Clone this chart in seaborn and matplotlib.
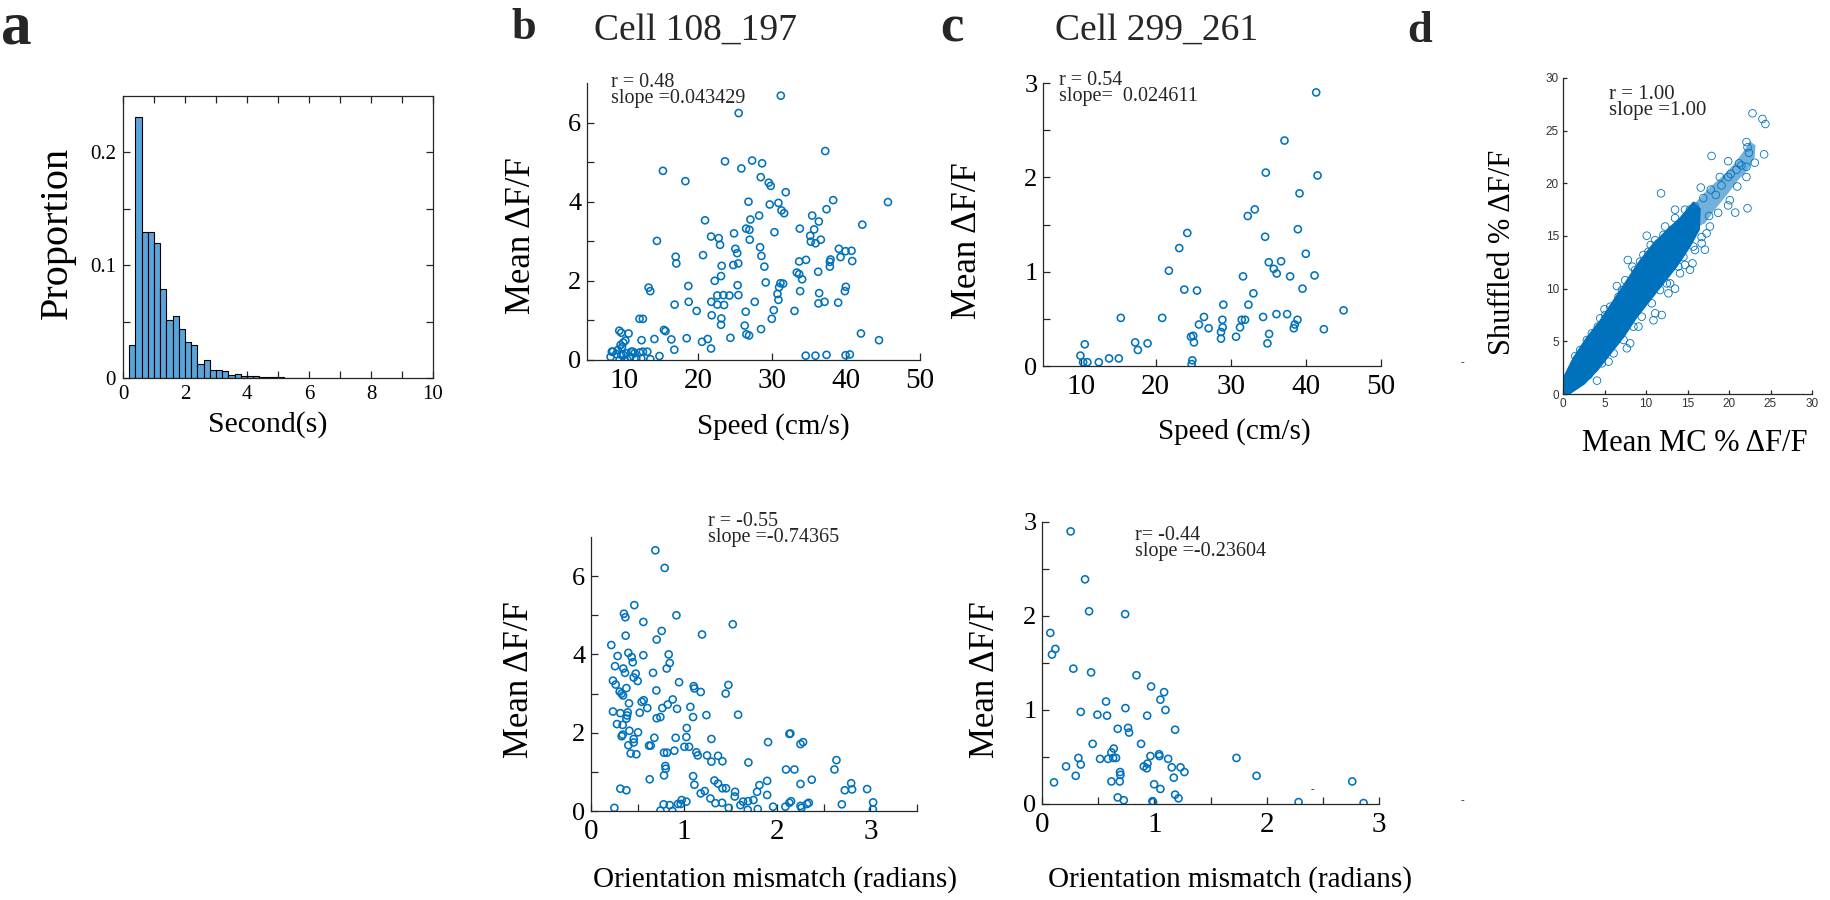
import numpy as np
import matplotlib
matplotlib.use("Agg")
import matplotlib.pyplot as plt
import seaborn as sns

sns.set_style("ticks")
plt.rcParams["font.family"] = ["Liberation Serif", "DejaVu Serif"]

BLUE = "#0072BD"
BAR = "#58A5DC"
AXC = "#262626"
W, H = 1830, 900

# ---------------- data ----------------
# a: event duration histogram (proportion per 0.2 s bin)
bin_left = [0.2, 0.4, 0.6, 0.8, 1.0, 1.2, 1.4, 1.6, 1.8, 2.0, 2.2, 2.4, 2.6, 2.8,
            3.0, 3.2, 3.4, 3.6, 3.8, 4.0, 4.2, 4.4, 4.6, 4.8, 5.0, 5.2, 5.4, 5.6, 5.8]
proportion = [0.029, 0.231, 0.129, 0.129, 0.120, 0.079, 0.051, 0.055, 0.043, 0.032,
              0.029, 0.012, 0.016, 0.0075, 0.0075, 0.006, 0.003, 0.0035, 0.002, 0.002,
              0.0015, 0.0012, 0.001, 0.0006, 0.0005, 0.0004, 0.0003, 0.0003, 0.0002]

# b top: cell 108_197, speed vs mean dF/F
b_speed = [31.19, 25.5, 15.26, 18.29, 23.65, 25.86, 27.31, 28.66, 37.19, 28.48, 29.56, 29.83,
           31.86, 29.69, 30.87, 31.28, 31.64, 26.82, 38.27, 37.37, 45.67, 42.2, 14.45, 20.95,
           21.76, 22.8, 22.98, 24.87, 26.5, 26.95, 27.08, 28.26, 30.33, 33.76, 35.43, 35.7,
           36.33, 35.16, 35.25, 35.88, 36.6, 26.99, 16.98, 17.07, 20.68, 25.05, 25.3, 25.44,
           24.77, 23.2, 28.39, 28.57, 28.97, 29.15, 33.67, 34.6, 39.03, 39.94, 40.75, 40.84,
           37.82, 37.91, 37.82, 39.26, 23.11, 22.26, 33.35, 33.67, 34.07, 36.24, 30.96, 31.14,
           31.5, 13.32, 13.55, 18.69, 18.74, 16.84, 19.82, 21.8, 22.61, 23.43, 24.24, 22.61,
           23.52, 25.35, 25.46, 27.67, 30.74, 30.87, 33.8, 36.37, 36.28, 37.1, 38.94, 39.85,
           39.98, 21.85, 23.16, 23.11, 26.45, 30.24, 29.97, 33.04, 12.1, 12.55, 26.31, 26.54,
           26.9, 28.52, 15.4, 15.6, 14.11, 12.37, 16.4, 16.8, 18.47, 20.54, 21.31, 21.76,
           24.38, 42.02, 44.46, 34.56, 35.87, 37.37, 39.94, 40.52, 14.79,
           9.36, 9.63, 10.62, 9.9, 10.18, 9.54, 9.72, 9.17, 8.5, 8.19, 8.96, 9.63, 10.31,
           10.99, 11.43, 12.11, 12.56, 13.15, 10.84, 11.66, 9.4, 10.08, 10.5, 12.34, 13.56,
           9.94, 11.2, 8.36]
b_dff_speed = [6.68, 6.24, 4.78, 4.52, 5.02, 4.84, 5.04, 4.97, 5.28, 4.62, 4.48, 4.40,
               4.24, 3.93, 3.97, 3.78, 3.71, 4.00, 4.04, 3.81, 3.99, 3.42, 3.01, 3.53,
               3.12, 3.08, 2.91, 3.20, 3.32, 3.29, 3.55, 3.65, 3.23, 3.32, 3.65, 3.30,
               3.50, 3.14, 2.99, 2.95, 3.04, 3.04, 2.61, 2.44, 2.65, 2.81, 2.70, 2.44,
               2.40, 2.38, 2.85, 2.63, 2.36, 1.96, 2.49, 2.53, 2.81, 2.75, 2.76, 2.50,
               2.48, 2.54, 2.36, 2.60, 2.12, 2.00, 2.21, 2.17, 2.04, 2.23, 1.84, 1.94,
               1.93, 1.83, 1.74, 1.87, 1.47, 1.40, 1.24, 1.47, 1.63, 1.64, 1.63, 1.40,
               1.39, 1.89, 1.64, 1.47, 1.67, 1.52, 1.74, 1.69, 1.43, 1.47, 1.45, 1.74,
               1.85, 1.13, 1.05, 0.89, 1.22, 1.26, 1.04, 1.24, 1.04, 1.04, 0.87, 0.65,
               0.62, 0.78, 0.76, 0.73, 0.53, 0.50, 0.52, 0.26, 0.55, 0.46, 0.53, 0.29,
               0.56, 0.67, 0.50, 0.11, 0.11, 0.13, 0.12, 0.14, 0.10,
               0.74, 0.69, 0.67, 0.44, 0.49, 0.38, 0.32, 0.25, 0.21, 0.08, 0.15, 0.13, 0.17,
               0.21, 0.17, 0.19, 0.21, 0.21, 0.08, 0.04, 0.0, 0.0, 0.0, 0.04, 0.02,
               0.13, 0.21, 0.21]

# c top: cell 299_261, speed vs mean dF/F
c_speed = [41.37, 37.15, 34.66, 41.55, 39.15, 32.26, 33.19, 38.93, 34.57, 24.21, 23.14, 21.76,
           39.99, 36.7, 35.06, 35.72, 36.12, 31.63, 37.9, 41.15, 39.55, 23.81, 25.5, 33.01,
           29.01, 32.35, 15.36, 20.87, 26.43, 28.88, 25.76, 27.05, 28.92, 31.23, 31.46, 31.9,
           34.3, 36.08, 37.5, 38.88, 38.52, 38.39, 42.39, 45.02, 28.7, 28.7, 30.7, 35.1,
           34.88, 17.27, 17.63, 18.92, 24.7, 25.0, 25.1, 10.56, 9.98, 10.34, 10.91, 12.43,
           13.8, 15.09, 24.88, 24.79]
c_dff_speed = [2.90, 2.39, 2.05, 2.02, 1.83, 1.59, 1.66, 1.45, 1.37, 1.41, 1.25, 1.01,
               1.19, 1.11, 1.10, 1.03, 0.98, 0.95, 0.95, 0.96, 0.82, 0.81, 0.80, 0.77,
               0.65, 0.65, 0.51, 0.51, 0.52, 0.49, 0.44, 0.40, 0.41, 0.41, 0.49, 0.49,
               0.52, 0.55, 0.55, 0.49, 0.44, 0.40, 0.39, 0.59, 0.36, 0.29, 0.31, 0.34,
               0.24, 0.25, 0.17, 0.24, 0.31, 0.32, 0.25, 0.23, 0.11, 0.04, 0.04, 0.04,
               0.08, 0.08, 0.06, 0.02]

# b bottom: cell 108_197, orientation mismatch vs mean dF/F
b_orient = [0.691, 0.791, 0.465, 0.354, 0.369, 0.917, 0.562, 1.522, 0.759, 0.372, 1.192, 0.705,
            0.218, 0.401, 0.286, 0.834, 0.562, 0.437, 0.448, 0.845, 0.258, 0.347, 0.365, 0.813,
            0.666, 0.48, 0.458, 0.501, 0.236, 0.265, 0.38, 0.945, 1.103, 1.11, 1.475, 1.446,
            1.178, 0.308, 0.329, 0.344, 0.702, 0.408, 0.544, 0.566, 0.605, 0.823, 0.877, 1.067,
            0.924, 0.236, 0.315, 0.394, 0.387, 0.523, 0.705, 0.745, 0.766, 1.096, 1.239, 1.579,
            0.279, 0.34, 0.38, 0.412, 0.505, 0.329, 0.34, 0.458, 0.458, 0.401, 0.426, 0.487,
            0.68, 0.623, 0.641, 0.909, 1.028, 1.024, 1.003, 1.053, 1.293, 1.901, 2.13, 2.14,
            2.249, 2.277, 0.784, 0.816, 0.895, 1.131, 1.146, 1.246, 1.364, 1.293, 1.411, 1.69,
            0.798, 0.802, 0.784, 0.63, 1.096, 1.11, 1.221, 1.178, 1.325, 1.364, 1.411, 1.45,
            1.547, 1.543, 1.808, 1.783, 1.891, 1.891, 2.094, 2.184, 2.37, 2.249, 2.614, 2.635,
            2.793, 2.725, 2.803, 2.964, 3.029, 3.026, 2.693, 0.315, 0.38, 0.251, 0.745, 0.78,
            0.845, 0.874, 0.934, 0.963, 0.974, 1.024, 1.282, 1.336, 1.407, 1.479, 1.604, 1.633,
            1.686, 1.683, 1.744, 1.79, 1.955, 2.087, 2.13, 2.148, 2.249, 2.26, 2.32, 2.338]
b_dff_orient = [6.66, 6.21, 5.26, 5.04, 4.95, 5.00, 4.83, 4.77, 4.60, 4.48, 4.51, 4.38,
                4.24, 4.04, 3.96, 4.00, 3.98, 3.93, 3.80, 3.78, 3.70, 3.64, 3.53, 3.64,
                3.53, 3.51, 3.41, 3.32, 3.33, 3.23, 3.14, 3.29, 3.19, 3.13, 3.22, 3.00,
                3.04, 3.05, 3.00, 2.95, 3.08, 2.75, 2.79, 2.83, 2.63, 2.72, 2.85, 2.66,
                2.61, 2.54, 2.50, 2.52, 2.44, 2.51, 2.37, 2.40, 2.63, 2.40, 2.45, 2.46,
                2.22, 2.20, 2.36, 2.05, 2.01, 1.91, 1.95, 1.84, 1.75, 1.68, 1.47, 1.45,
                1.87, 1.67, 1.67, 1.87, 2.12, 1.89, 1.64, 1.64, 1.84, 1.76, 1.97, 1.98,
                1.71, 1.76, 1.49, 1.49, 1.54, 1.50, 1.42, 1.42, 1.41, 1.26, 1.27, 1.24,
                1.15, 1.08, 0.91, 0.81, 0.89, 0.67, 0.51, 0.45, 0.78, 0.70, 0.58, 0.58,
                0.49, 0.37, 0.66, 0.49, 0.77, 0.41, 1.06, 1.06, 0.80, 0.69, 1.06, 1.30,
                0.71, 0.53, 0.55, 0.56, 0.22, 0.04, 0.17, 0.57, 0.53, 0.08, 0.01, 0.17,
                0.15, 0.0, 0.18, 0.18, 0.28, 0.24, 0.32, 0.20, 0.21, 0.08, 0.15, 0.24,
                0.25, 0.03, 0.28, 0.05, 0.11, 0.11, 0.21, 0.25, 0.13, 0.08, 0.18, 0.21]

# c bottom: cell 299_261, orientation mismatch vs mean dF/F
c_orient = [0.255, 0.383, 0.419, 0.74, 0.074, 0.119, 0.089, 0.279, 0.437, 0.841, 0.971, 1.087,
            0.57, 1.054, 0.743, 1.099, 0.345, 0.493, 0.579, 0.936, 0.674, 0.766, 0.775, 1.185,
            0.451, 0.882, 0.639, 0.618, 0.659, 0.633, 0.517, 0.588, 0.324, 0.965, 1.042, 1.045,
            1.123, 1.731, 0.214, 0.345, 0.906, 0.933, 0.939, 1.155, 1.233, 1.268, 1.173, 0.3,
            0.695, 0.698, 1.91, 0.107, 0.618, 0.692, 0.998, 1.054, 1.185, 1.215, 0.674, 0.728,
            0.983, 0.989, 2.284, 2.762, 2.863]
c_dff_orient = [2.90, 2.39, 2.05, 2.02, 1.82, 1.65, 1.59, 1.44, 1.40, 1.37, 1.25, 1.19,
                1.09, 1.11, 1.02, 1.00, 0.98, 0.95, 0.94, 0.94, 0.80, 0.81, 0.76, 0.79,
                0.64, 0.64, 0.59, 0.55, 0.49, 0.49, 0.48, 0.48, 0.49, 0.51, 0.53, 0.51,
                0.48, 0.49, 0.40, 0.42, 0.40, 0.38, 0.43, 0.39, 0.39, 0.34, 0.28, 0.30,
                0.34, 0.31, 0.30, 0.23, 0.24, 0.24, 0.21, 0.16, 0.10, 0.06, 0.07, 0.04,
                0.03, 0.02, 0.02, 0.24, 0.01]

# d: shuffled vs mean MC dF/F -- dense core outline, looser fringe outline, sparse points
core_x = [0.0, 0.0, 1.2, 2.8, 4.4, 6.0, 7.6, 9.2, 10.8, 12.4, 14.1, 15.7, 16.6,
          16.5, 15.4, 13.8, 12.2, 10.6, 9.0, 7.4, 5.8, 4.2, 2.6, 0.9]
core_y = [0.0, 1.6, 3.5, 5.4, 7.0, 8.9, 10.8, 12.7, 14.3, 15.55, 16.8, 18.3, 17.6,
          15.6, 14.0, 12.1, 10.5, 8.9, 7.3, 5.4, 3.8, 2.2, 0.9, 0.0]
fringe_x = [15.9, 17.5, 19.1, 20.7, 21.9, 22.5, 23.2, 23.1, 22.3, 21.1, 19.9, 18.3, 17.1, 16.3]
fringe_y = [18.1, 19.5, 20.6, 21.9, 23.2, 24.0, 23.6, 22.5, 21.3, 20.3, 19.05, 17.5, 16.2, 15.9]
d_mc = [22.83, 24.03, 24.39, 24.23, 22.11, 22.23, 17.9, 11.81, 22.23, 20.75, 23.1, 22.11,
        21.5, 20.9, 19.9, 19.9, 22.1, 21.0, 18.9, 19.1, 16.6, 17.8, 20.1, 19.9, 18.7, 17.7,
        17.6, 13.5, 14.7, 15.3, 15.9, 13.5, 12.3, 12.1, 10.09, 11.1, 10.57, 9.69, 7.81, 8.37,
        6.49, 7.5, 5.0, 4.49, 2.88, 15.6, 15.3, 13.5, 12.7, 12.5, 11.1, 11.9, 10.9, 9.09,
        7.69, 8.09, 5.49, 4.09, 15.7, 16.7, 17.1, 14.5, 13.9, 22.4, 21.2, 20.2, 18.4, 16.9,
        1.48, 2.08, 3.48, 4.2, 5.09, 5.69, 6.69, 7.09, 8.69, 9.29, 10.29, 11.49, 13.1, 14.1,
        15.1, 3.08, 4.69, 6.09, 7.29, 8.49, 9.49, 10.69, 11.69, 12.9, 14.1, 14.7, 15.9, 16.7,
        17.3]
d_shuf = [26.65, 26.11, 25.63, 22.75, 23.92, 23.42, 22.6, 19.05, 17.63, 17.22, 21.96, 21.58,
          21.7, 21.3, 22.1, 20.6, 20.6, 19.7, 20.6, 19.8, 19.6, 19.4, 18.4, 17.9, 17.2, 15.9,
          16.9, 17.5, 17.5, 17.5, 17.8, 16.7, 15.9, 15.1, 15.03, 14.6, 14.15, 13.2, 12.72, 12.09,
          10.25, 10.8, 8.04, 7.18, 5.13, 12.4, 11.8, 10.0, 9.56, 10.5, 7.66, 7.5, 7.0, 6.4,
          4.34, 4.81, 3.07, 1.27, 14.0, 14.9, 13.7, 13.0, 12.1, 22.9, 21.9, 20.9, 18.9, 18.6,
          3.6, 4.18, 5.76, 6.39, 7.5, 8.29, 9.24, 9.87, 11.77, 12.56, 13.5, 14.3, 15.6, 16.0,
          16.8, 1.8, 2.91, 3.86, 5.13, 6.39, 7.34, 8.61, 9.87, 10.5, 11.46, 12.25, 13.67, 14.3,
          15.25]

# ---------------- figure ----------------
fig = plt.figure(figsize=(W / 100, H / 100), dpi=100)


def add_ax(box):
    l, t, r, b = box
    return fig.add_axes([l / W, 1 - b / H, (r - l) / W, (b - t) / H])


def style(ax, box_on=False):
    for s in ax.spines.values():
        s.set_color(AXC)
        s.set_linewidth(0.9)
    ax.tick_params(which="both", direction="in", color=AXC, width=0.9, length=5,
                   labelcolor="black")
    if not box_on:
        sns.despine(ax=ax)


def labels(ax, box, xl, xc, yl, yc, xsize, ysize):
    l, t, r, b = box
    ax.set_xlabel(xl, fontsize=xsize, color="black")
    ax.set_ylabel(yl, fontsize=ysize, color="black")
    ax.xaxis.label.set_va("center")
    ax.yaxis.label.set_va("center")
    ax.xaxis.set_label_coords((xc[0] - l) / (r - l), (b - xc[1]) / (b - t))
    ax.yaxis.set_label_coords((yc[0] - l) / (r - l), (b - yc[1]) / (b - t))


def ftext(x, y, s, **kw):
    fig.text(x / W, 1 - y / H, s, **kw)


def scatter(ax, x, y):
    sns.scatterplot(x=x, y=y, ax=ax, marker="o", s=26, facecolor="none",
                    edgecolor=BLUE, linewidth=1.15, legend=False)


# a: histogram
box_a = (123, 96, 433, 378)
ax = add_ax(box_a)
centers = [v + 0.1 for v in bin_left]
edges = bin_left + [bin_left[-1] + 0.2]
sns.histplot(x=centers, weights=proportion, bins=edges, ax=ax, color=BAR, alpha=1,
             edgecolor="black", linewidth=0.8)
ax.set_xlim(0, 10)
ax.set_ylim(0, 0.25)
ax.set_xticks(range(0, 11))
ax.set_xticklabels(["0", "", "2", "", "4", "", "6", "", "8", "", "10"])
ax.set_yticks([0, 0.05, 0.1, 0.15, 0.2])
ax.set_yticklabels(["0", "", "0.1", "", "0.2"])
style(ax, box_on=True)
ax.tick_params(top=True, right=True, labelsize=15, pad=5)
labels(ax, box_a, "Second(s)", (268, 425), "Proportion", (57, 233), 21.5, 29)

# b top
box_bt = (587, 83, 920, 360)
ax = add_ax(box_bt)
scatter(ax, b_speed, b_dff_speed)
ax.set_xlim(5, 50)
ax.set_ylim(0, 7)
ax.set_xticks([10, 20, 30, 40, 50])
ax.set_yticks(range(0, 7))
ax.set_yticklabels(["0", "", "2", "", "4", "", "6"])
style(ax)
ax.tick_params(axis="x", labelsize=21, pad=6)
ax.tick_params(axis="y", labelsize=19, pad=4)
labels(ax, box_bt, "Speed (cm/s)", (773, 427), "Mean ΔF/F", (521, 236), 21, 25)

# c top
box_ct = (1043, 83, 1381, 366)
ax = add_ax(box_ct)
scatter(ax, c_speed, c_dff_speed)
ax.set_xlim(5, 50)
ax.set_ylim(0, 3)
ax.set_xticks([10, 20, 30, 40, 50])
ax.set_yticks([0, 0.5, 1, 1.5, 2, 2.5, 3])
ax.set_yticklabels(["0", "", "1", "", "2", "", "3"])
style(ax)
ax.tick_params(axis="x", labelsize=21, pad=6)
ax.tick_params(axis="y", labelsize=19, pad=4)
labels(ax, box_ct, "Speed (cm/s)", (1234, 432), "Mean ΔF/F", (967, 241), 21, 25)

# b bottom
box_bb = (591, 537, 917, 811)
ax = add_ax(box_bb)
scatter(ax, b_orient, b_dff_orient)
ax.set_xlim(0, 3.5)
ax.set_ylim(0, 7)
ax.set_xticks([0, 0.5, 1, 1.5, 2, 2.5, 3, 3.5])
ax.set_xticklabels(["0", "", "1", "", "2", "", "3", ""])
ax.set_yticks(range(0, 7))
ax.set_yticklabels(["0", "", "2", "", "4", "", "6"])
style(ax)
ax.tick_params(axis="x", labelsize=21, pad=6)
ax.tick_params(axis="y", labelsize=19, pad=4)
labels(ax, box_bb, "Orientation mismatch (radians)", (775, 880), "Mean ΔF/F", (520, 680), 21, 25)

# c bottom
box_cb = (1042, 522, 1379, 804)
ax = add_ax(box_cb)
scatter(ax, c_orient, c_dff_orient)
ax.set_xlim(0, 3)
ax.set_ylim(0, 3)
ax.set_xticks([0, 0.5, 1, 1.5, 2, 2.5, 3])
ax.set_xticklabels(["0", "", "1", "", "2", "", "3"])
ax.set_yticks([0, 0.5, 1, 1.5, 2, 2.5, 3])
ax.set_yticklabels(["0", "", "1", "", "2", "", "3"])
style(ax)
ax.tick_params(axis="x", labelsize=21, pad=6)
ax.tick_params(axis="y", labelsize=19, pad=4)
labels(ax, box_cb, "Orientation mismatch (radians)", (1230, 880), "Mean ΔF/F", (986, 680), 21, 25)

# d
box_d = (1563, 78, 1812, 394)
ax = add_ax(box_d)
ax.fill(core_x, core_y, color=BLUE, lw=0)
ax.fill(fringe_x, fringe_y, color=BLUE, alpha=0.55, lw=0)
sns.scatterplot(x=d_mc, y=d_shuf, ax=ax, marker="o", s=30, facecolor="none",
                edgecolor=BLUE, linewidth=0.6, legend=False)
ax.set_xlim(0, 30)
ax.set_ylim(0, 30)
ax.set_xticks(range(0, 31, 5))
ax.set_yticks(range(0, 31, 5))
style(ax)
ax.tick_params(labelsize=8.5, length=3, pad=3, labelcolor="#333333")
for t in ax.get_xticklabels() + ax.get_yticklabels():
    t.set_family(["Liberation Sans", "DejaVu Sans"])
labels(ax, box_d, "Mean MC % ΔF/F", (1695, 443), "Shuffled % ΔF/F", (1502, 252), 22, 22)

# stats text
ftext(611, 73, "r = 0.48\nslope =0.043429", fontsize=14.5, va="top", linespacing=0.8)
ftext(1059, 71, "r = 0.54\nslope=  0.024611", fontsize=14.5, va="top", linespacing=0.8)
ftext(708, 512, "r = -0.55\nslope =-0.74365", fontsize=14.5, va="top", linespacing=0.8)
ftext(1135, 526, "r= -0.44\nslope =-0.23604", fontsize=14.5, va="top", linespacing=0.8)
ftext(1609, 85, "r = 1.00\nslope =1.00", fontsize=15, va="top", linespacing=0.8)

# titles and panel letters
ftext(696, 30, "Cell 108_197", fontsize=27, ha="center", va="center")
ftext(1157, 30, "Cell 299_261", fontsize=27, ha="center", va="center")
ftext(1, 28, "a", fontsize=44, weight="bold", va="center")
ftext(511, 28, "b", fontsize=32, weight="bold", va="center")
ftext(940, 28, "c", fontsize=38, weight="bold", va="center")
ftext(1407, 31, "d", fontsize=32, weight="bold", va="center")

# small stray marks in the original
ftext(1462, 363, "-", fontsize=8, ha="center", va="center")
ftext(1462, 801, "-", fontsize=8, ha="center", va="center")
ftext(1312, 790, "-", fontsize=8, ha="center", va="center")

fig.savefig("out.png", dpi=100, facecolor="white")
